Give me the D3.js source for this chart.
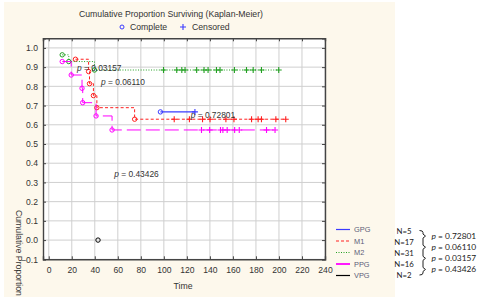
<!DOCTYPE html>
<html><head><meta charset="utf-8">
<script src="https://cdn.jsdelivr.net/npm/d3@7/dist/d3.min.js"></script>
<style>body{margin:0;background:#fff}svg{display:block}</style>
</head><body>
<svg id="c" width="479" height="297"></svg>
<script>
// ---- data ----
const groups = ["GPG", "M1", "M2", "PPG", "VPG"];
const groupN = [5, 17, 31, 16, 2];
const pairP = ["0.72801", "0.06110", "0.03157", "0.43426"];
const groupColors = ["#3b3bff", "#ff2020", "#22a022", "#ff00ff", "#000000"];
// event times & survival after each event
const gpgEventT = [97], gpgEventS = [0.667], gpgCens = [127];
const m1EventT = [23.2, 34.6, 35.4, 38.8, 41.8, 74.6];
const m1EventS = [0.941, 0.877, 0.814, 0.752, 0.689, 0.629];
const m1Cens = [109, 122.2, 133.6, 140.1, 153.9, 160.9, 176.2, 181.9, 184.8, 197.3, 205.9];
const m2EventT = [11.7, 17.4, 39.7];
const m2EventS = [0.964, 0.929, 0.885];
const m2Cens = [99.7, 111.2, 115.6, 118.4, 128.5, 134.9, 138.4, 145.7, 148.8, 161.3, 171.8, 177.6, 184.8, 199.8];
const ppgEventT = [11.7, 19.5, 28.9, 29.5, 41.1, 55.0];
const ppgEventS = [0.929, 0.859, 0.790, 0.715, 0.646, 0.573];
const ppgCens = [132.7, 139.8, 149.2, 151.3, 155.0, 161.5, 165.5, 189.2, 196.6];
const vpgEventT = [42.8], vpgEventS = [0.0], vpgCens = [];
const xTicks = d3.range(0, 241, 20);
const yTicks = d3.range(-1, 11).map(d => d / 10);
const plotPLabels = [
  {p: "0.03157", t: 24.5, s: 0.878},
  {p: "0.06110", t: 45.4, s: 0.808},
  {p: "0.72801", t: 123.3, s: 0.633},
  {p: "0.43426", t: 56.9, s: 0.328}
];

const curves = [
  {T: gpgEventT, S: gpgEventS, C: gpgCens, dash: null, w: 1.3},
  {T: m1EventT, S: m1EventS, C: m1Cens, dash: "3,2.2", w: 1},
  {T: m2EventT, S: m2EventS, C: m2Cens, dash: "1,1.6", w: 1},
  {T: ppgEventT, S: ppgEventS, C: ppgCens, dash: "14,5", w: 1},
  {T: vpgEventT, S: vpgEventS, C: vpgCens, dash: null, w: 1}
];

const svg = d3.select("#c");
const F = "'Liberation Sans', Arial, sans-serif";
svg.append("rect").attr("x", 4).attr("y", 2).attr("width", 391).attr("height", 295).attr("fill", "#fdf8ec");

const x = d3.scaleLinear().domain([-5, 240]).range([43, 325]);
const y = d3.scaleLinear().domain([-0.1, 1.05]).range([259.3, 38.3]);

svg.append("rect").attr("x", 43).attr("y", 38.3).attr("width", 282).attr("height", 221).attr("fill", "#fff");

// grid
const g = svg.append("g");
g.selectAll(".vg").data(xTicks).join("line")
  .attr("x1", d => x(d)).attr("x2", d => x(d)).attr("y1", 38.3).attr("y2", 259.3)
  .attr("stroke", "#cfcfcf").attr("stroke-width", 1);
g.selectAll(".hg").data(yTicks).join("line")
  .attr("y1", d => y(d)).attr("y2", d => y(d)).attr("x1", 43).attr("x2", 325)
  .attr("stroke", "#cfcfcf").attr("stroke-width", 1);

// axes
const fmt = d3.format(".1f");
const ax = svg.append("g").attr("transform", "translate(0,259.3)")
  .call(d3.axisBottom(x).tickValues(xTicks).tickSize(-3).tickPadding(8));
const ay = svg.append("g").attr("transform", "translate(43,0)")
  .call(d3.axisLeft(y).tickValues(yTicks).tickSize(-3).tickPadding(5).tickFormat(d => fmt(d)));
const axT = svg.append("g").attr("transform", "translate(0,38.3)")
  .call(d3.axisTop(x).tickValues(xTicks).tickSize(-3).tickFormat(""));
const ayR = svg.append("g").attr("transform", "translate(325,0)")
  .call(d3.axisRight(y).tickValues(yTicks).tickSize(-3).tickFormat(""));
[ax, ay, axT, ayR].forEach(a => {
  a.selectAll("path").attr("stroke", "#444").attr("stroke-width", 1.4);
  a.selectAll("line").attr("stroke", "#444");
  a.selectAll("text").attr("font-family", F).attr("font-size", 8.6).attr("fill", "#333");
});

// curves
const cg = svg.append("g");
curves.forEach((c, i) => {
  const col = groupColors[i];
  const pts = [];
  c.T.forEach((t, k) => {
    if (k > 0) pts.push([t, c.S[k - 1]]);
    pts.push([t, c.S[k]]);
  });
  const endT = c.C.length ? d3.max(c.C) : c.T[c.T.length - 1];
  pts.push([endT, c.S[c.S.length - 1]]);
  if (pts.length > 1) {
    cg.append("path").datum(pts)
      .attr("d", d3.line().x(d => x(d[0])).y(d => y(d[1])))
      .attr("fill", "none").attr("stroke", col).attr("stroke-width", c.w)
      .attr("stroke-dasharray", c.dash);
  }
  cg.selectAll(null).data(c.T.map((t, k) => [t, c.S[k]])).join("circle")
    .attr("cx", d => x(d[0])).attr("cy", d => y(d[1])).attr("r", 2.2)
    .attr("fill", "none").attr("stroke", col).attr("stroke-width", 1);
  const last = c.S[c.S.length - 1];
  cg.selectAll(null).data(c.C).join("path")
    .attr("d", d => `M${x(d) - 3},${y(last)}h6M${x(d)},${y(last) - 3}v6`)
    .attr("stroke", col).attr("stroke-width", 1.1);
});

// p labels in plot
plotPLabels.forEach(l => {
  const t = svg.append("text").attr("x", x(l.t)).attr("y", y(l.s))
    .attr("font-family", F).attr("font-size", 8.4).attr("fill", "#333");
  t.append("tspan").attr("font-style", "italic").text("p");
  t.append("tspan").text(" = " + l.p);
});

// title & top legend
svg.append("text").attr("x", 171).attr("y", 17).attr("text-anchor", "middle")
  .attr("font-family", F).attr("font-size", 8.7).attr("fill", "#333")
  .text("Cumulative Proportion Surviving (Kaplan-Meier)");
svg.append("circle").attr("cx", 122).attr("cy", 27).attr("r", 2).attr("fill", "none")
  .attr("stroke", "#3b3bff").attr("stroke-width", 1);
svg.append("text").attr("x", 130).attr("y", 30).attr("font-family", F).attr("font-size", 8.7)
  .attr("fill", "#333").text("Complete");
svg.append("path").attr("d", "M180,27h6M183,24v6").attr("stroke", "#3b3bff").attr("stroke-width", 1.1);
svg.append("text").attr("x", 192).attr("y", 30).attr("font-family", F).attr("font-size", 8.7)
  .attr("fill", "#333").text("Censored");

// axis titles
svg.append("text").attr("x", 183).attr("y", 289).attr("text-anchor", "middle")
  .attr("font-family", F).attr("font-size", 8.7).attr("fill", "#333").text("Time");
svg.append("text").attr("transform", "translate(16,210) rotate(90)")
  .attr("font-family", F).attr("font-size", 8.7).attr("fill", "#333").text("Cumulative Proportion");

// bottom-right legend
const legY = d3.scaleLinear().domain([0, 4]).range([229.5, 275.5]);
const dashes = [null, "3,2", "1,1.5", null, null];
groups.forEach((gname, i) => {
  svg.append("line").attr("x1", 336).attr("x2", 350).attr("y1", legY(i)).attr("y2", legY(i))
    .attr("stroke", groupColors[i]).attr("stroke-width", i === 3 ? 1.8 : 1.2)
    .attr("stroke-dasharray", dashes[i]);
  svg.append("text").attr("x", 354).attr("y", legY(i) + 2.7)
    .attr("font-family", F).attr("font-size", 7.4).attr("fill", "#5c5c78").text(gname);
});

// N labels, braces, p values
const NF = "Lato, 'Noto Sans', sans-serif";
const nY = d3.scaleLinear().domain([0, 4]).range([230.5, 275]);
groupN.forEach((n, i) => {
  svg.append("text").attr("x", 404).attr("y", nY(i) + 3).attr("text-anchor", "middle")
    .attr("font-family", NF).attr("font-size", 7.8).attr("fill", "#222").text("N=" + n);
});
let bp = `M419.5,${nY(0)} Q423,${nY(0)} 423,${nY(0) + 2}`;
pairP.forEach((p, i) => {
  const m = (nY(i) + nY(i + 1)) / 2;
  bp += ` L423,${m - 2} L425.5,${m} L423,${m + 2}`;
  const t = svg.append("text").attr("x", 431.5).attr("y", m + 3)
    .attr("font-family", NF).attr("font-size", 8.4).attr("fill", "#222");
  t.append("tspan").attr("font-style", "italic").text("p");
  t.append("tspan").text(" = " + p);
});
bp += ` L423,${nY(4) - 2} Q423,${nY(4)} 419.5,${nY(4)}`;
svg.append("path").attr("d", bp).attr("fill", "none").attr("stroke", "#222").attr("stroke-width", 1);
</script>
</body></html>
